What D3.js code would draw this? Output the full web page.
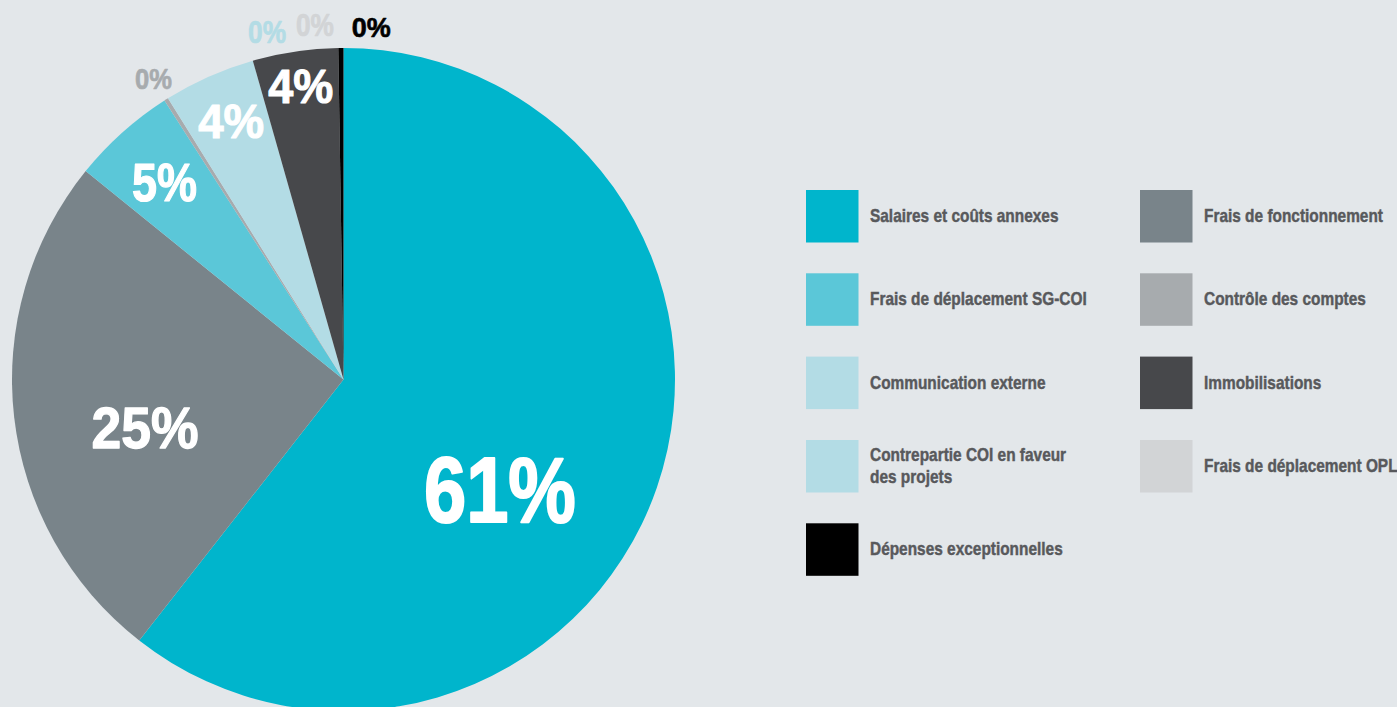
<!DOCTYPE html>
<html><head><meta charset="utf-8">
<script src="https://cdn.jsdelivr.net/npm/d3@7"></script>
<style>
body{margin:0;background:#e3e7ea;}
svg{display:block;}
text{font-family:"Liberation Sans",Arial,Helvetica,sans-serif;font-weight:bold;}
</style></head><body>
<svg id="c" width="1397" height="707"></svg>
<script>
// ---- data ----
const categories = ["Salaires et coûts annexes","Frais de fonctionnement","Frais de déplacement SG-COI","Contrôle des comptes","Communication externe","Contrepartie COI en faveur des projets","Frais de déplacement OPL","Immobilisations","Dépenses exceptionnelles"];
const values = [60.56, 25.25, 5.1, 0.2, 4.47, 0, 0, 4.16, 0.25];
const colors = ["#00b5cc","#79848a","#5bc7d8","#a7abae","#b3dce5","#b3dce5","#d2d4d6","#47484b","#000000"];
const legendOrder = [0,1,2,3,4,7,5,6,8];

// ---- label layout: angle deg clockwise from top, radius px, font size, target width, colour ----
const labelLayout = [
  [124.9,190.7,93,152,"#ffffff"],
  [256.3,204.3,57,107,"#ffffff"],
  [317.8,266.5,53,65,"#ffffff"],
  [327.7,355.5,29,37,"#a7abae"],
  [336.6,282.8,49,66,"#ffffff"],
  [347.6,355.8,31,38,"#b3dce5"],
  [355.4,356.1,32,38,"#d2d4d6"],
  [351.7,297.1,49,65,"#ffffff"],
  [4.5,353.6,28,39,"#000000"]
];

const W=1397,H=707, cx=343.5, cy=379.5, R=331.5;
const svg=d3.select("#c");
svg.append("rect").attr("width",W).attr("height",H).attr("fill","#e3e7ea");

const pie=d3.pie().sort(null).value(d=>d);
const arc=d3.arc().innerRadius(0).outerRadius(R);
const g=svg.append("g").attr("transform",`translate(${cx},${cy})`);
const arcs=pie(values);
g.selectAll("path").data(arcs).join("path")
  .attr("d",arc).attr("fill",(d,i)=>colors[i]);

arcs.forEach((d,i)=>{
  const L=labelLayout[i];
  const x=L[1]*Math.sin(L[0]*Math.PI/180), y=-L[1]*Math.cos(L[0]*Math.PI/180);
  const t=g.append("text")
    .attr("x",0).attr("y",0).attr("dy","0.358em")
    .attr("text-anchor","middle")
    .attr("font-size",L[2])
    .attr("fill",L[4])
    .attr("stroke",L[4]).attr("stroke-width",L[2]*0.022).attr("stroke-linejoin","round")
    .text(Math.round(d.data)+"%");
  const w=t.node().getComputedTextLength();
  t.attr("transform",`translate(${x},${y}) scale(${L[3]/w},1)`);
});

// ---- legend ----
const colX=[806,1140], rowY=[190,273.3,356.6,440,523.3], sq=52.5, textOff=64, fs=19;
const leg=svg.append("g");
// condensing factor: "Frais de fonctionnement" spans ~179px in the reference
const probe=leg.append("text").attr("font-size",fs).text(categories[1]);
const sx=179/probe.node().getComputedTextLength();
legendOrder.forEach((ci,k)=>{
  const col=k%2,row=Math.floor(k/2);
  const x=colX[col], y=rowY[row];
  leg.append("rect").attr("x",x).attr("y",y).attr("width",sq).attr("height",sq).attr("fill",colors[ci]);
  const words=categories[ci].split(" ");
  const maxW= col===0 ? 222 : 260;
  let lines=[], cur=[];
  words.forEach(w=>{
    probe.text(cur.concat([w]).join(" "));
    if(probe.node().getComputedTextLength()*sx>maxW && cur.length){lines.push(cur.join(" "));cur=[w];}
    else cur.push(w);
  });
  lines.push(cur.join(" "));
  const lh=22, mid=y+sq/2-1;
  const first=mid-(lines.length-1)*lh/2;
  const t=leg.append("text").attr("font-size",fs).attr("fill","#58595c")
    .attr("stroke","#58595c").attr("stroke-width",0.45)
    .attr("transform",`translate(${x+textOff},0) scale(${sx},1)`);
  lines.forEach((l,j)=>{
    t.append("tspan").attr("x",0).attr("y",first+j*lh).attr("dy","0.358em").text(l);
  });
});
probe.remove();
</script>
</body></html>
